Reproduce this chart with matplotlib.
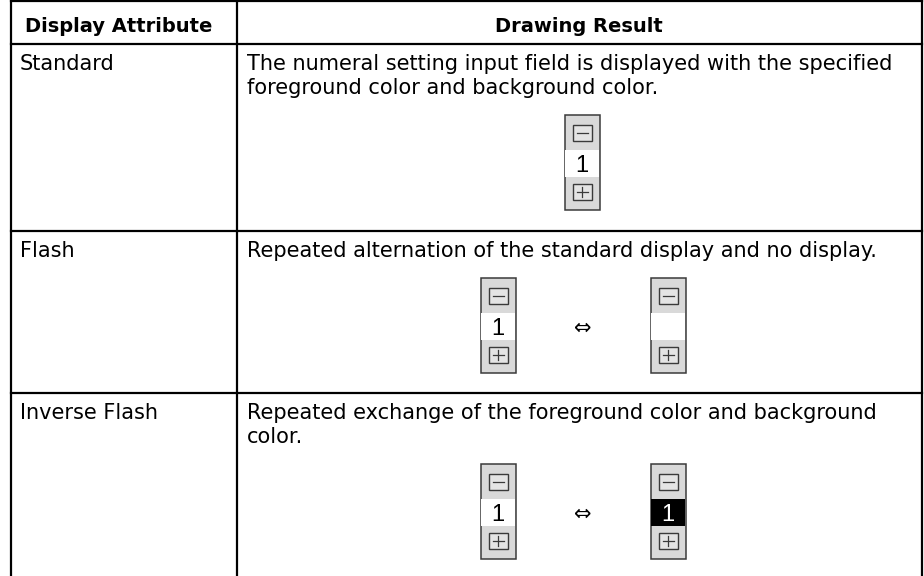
import matplotlib.pyplot as plt
import matplotlib as mpl
from matplotlib.patches import Rectangle

# Table content
headers = ["Display Attribute", "Drawing Result"]
attributes = ["Standard", "Flash", "Inverse Flash"]
results = [
    ["The numeral setting input field is displayed with the specified",
     "foreground color and background color."],
    ["Repeated alternation of the standard display and no display."],
    ["Repeated exchange of the foreground color and background",
     "color."],
]
# widget states drawn for each row ("normal", "blank", "inverse")
widget_states = [["normal"], ["normal", "blank"], ["normal", "inverse"]]
value_text = "1"
arrow_text = "\u21d4"

mpl.rc('font', family=['DejaVu Sans'])

W, H = 924, 576
fig = plt.figure(figsize=(W / 100, H / 100), dpi=100)
ax = fig.add_axes([0, 0, 1, 1])
ax.set_xlim(0, W)
ax.set_ylim(H, 0)
ax.axis('off')

# layout (pixels)
left, mid, right = 11, 237, 922
header_bottom = 44
row_tops = [header_bottom, 231, 393]
line_gap = 24
fs = 15
lw = 1.6
grey = '#d9d9d9'
edge = '#3a3a3a'


def draw_widget(ax, cx, top, state):
    w, h = 35, 95
    x0 = cx - w / 2
    ax.add_patch(Rectangle((x0, top), w, h, facecolor=grey, edgecolor=edge,
                           lw=1.1, zorder=2))
    band_col = 'black' if state == 'inverse' else 'white'
    ax.add_patch(Rectangle((x0 + 0.6, top + 35), w - 1.2, 27,
                           facecolor=band_col, edgecolor='none', zorder=3))
    if state != 'blank':
        ax.text(cx, top + 57, value_text, ha='center', va='baseline',
                fontsize=17, family=['Liberation Sans', 'DejaVu Sans'],
                color='white' if state == 'inverse' else 'black', zorder=4)
    # minus and plus buttons
    for by, sign in [(top + 10, '-'), (top + 69, '+')]:
        bx = cx - 9.5
        ax.add_patch(Rectangle((bx, by), 19, 16, facecolor='#e4e4e4',
                               edgecolor=edge, lw=1.0, zorder=4))
        ax.plot([bx + 4, bx + 15], [by + 8, by + 8], color=edge, lw=0.9,
                zorder=5)
        if sign == '+':
            ax.plot([bx + 9.5, bx + 9.5], [by + 3, by + 13], color=edge,
                    lw=0.9, zorder=5)


# grid lines
ax.plot([left, right], [1, 1], color='black', lw=lw)
ax.plot([left, right], [header_bottom, header_bottom], color='black', lw=lw)
for t in row_tops[1:]:
    ax.plot([left, right], [t, t], color='black', lw=lw)
for x in (left, mid, right):
    ax.plot([x, x], [0, H], color='black', lw=lw)

# header
ax.text((left + mid) / 2 - 5, 32, headers[0], ha='center', va='baseline',
        fontsize=fs - 1, fontweight='bold')
ax.text((mid + right) / 2 - 1, 32, headers[1], ha='center', va='baseline',
        fontsize=fs - 1, fontweight='bold')

# rows
for top, attr, lines, states in zip(row_tops, attributes, results,
                                    widget_states):
    base = top + 26
    ax.text(left + 9, base, attr, ha='left', va='baseline', fontsize=fs)
    for i, ln in enumerate(lines):
        ax.text(mid + 10, base + i * line_gap, ln, ha='left', va='baseline',
                fontsize=fs)
    wtop = base + (len(lines) - 1) * line_gap + 21
    if len(states) == 1:
        draw_widget(ax, 582, wtop, states[0])
    else:
        draw_widget(ax, 498, wtop, states[0])
        draw_widget(ax, 668, wtop, states[1])
        ax.text(583, wtop + 50, arrow_text, ha='center', va='center',
                fontsize=fs)

fig.savefig('out.png', dpi=100)
